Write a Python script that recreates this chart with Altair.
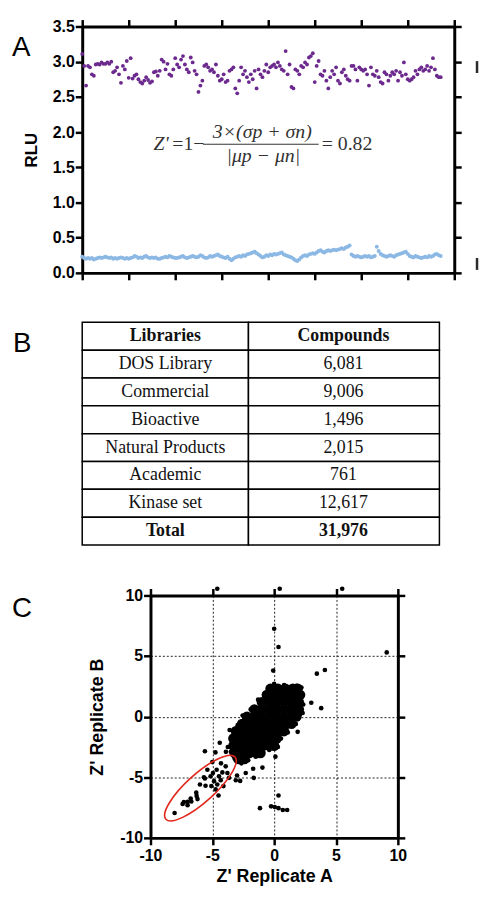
import altair as alt
import pandas as pd

# ---------------- Panel A data (RLU per well) ----------------
pos_ctrl = [3.11, 2.94, 2.66, 2.94, 2.92, 2.82, 2.80, 2.96, 2.97, 2.96,
            2.99, 2.97, 2.97, 2.99, 2.97, 3.00, 2.85, 2.87, 2.92, 2.82,
            2.70, 2.94, 2.89, 3.01, 2.77, 3.05, 2.76, 2.80, 2.82, 2.75,
            2.71, 2.69, 2.73, 2.78, 2.74, 2.70, 2.72, 2.85, 2.86, 2.80,
            2.87, 3.03, 3.00, 2.89, 2.97, 2.82, 2.80, 2.89, 3.05, 2.96,
            2.92, 3.03, 3.08, 2.96, 2.89, 2.85, 3.06, 2.99, 2.87, 2.82,
            2.57, 2.66, 2.73, 2.94, 2.96, 2.92, 2.87, 2.89, 2.85, 2.96,
            2.80, 2.73, 2.75, 2.82, 2.71, 2.73, 2.87, 2.89, 2.92, 2.62,
            2.55, 2.73, 2.92, 2.82, 2.87, 2.78, 2.71, 2.82, 2.75, 2.87,
            2.62, 2.89, 2.82, 2.78, 2.87, 2.96, 2.85, 2.92, 2.94, 2.96,
            2.92, 2.99, 2.94, 2.89, 2.87, 3.15, 2.82, 2.96, 2.64, 2.62,
            2.89, 2.87, 2.82, 2.94, 2.92, 2.99, 2.96, 3.06, 3.08, 3.12,
            2.71, 2.94, 3.01, 2.82, 2.80, 2.87, 2.73, 2.62, 2.78, 2.87,
            2.82, 2.92, 2.73, 2.69, 2.85, 2.89, 2.80, 2.75, 2.73, 2.94,
            2.94, 2.89, 2.73, 2.92, 2.89, 2.87, 2.89, 2.82, 2.66, 2.92,
            2.82, 2.80, 2.87, 2.78, 2.71, 2.69, 2.85, 2.82, 2.73, 2.80,
            2.85, 2.82, 2.87, 2.73, 2.85, 2.80, 2.99, 2.82, 2.75, 2.73,
            2.75, 2.78, 2.87, 2.82, 2.89, 2.92, 2.87, 2.89, 2.94, 2.87,
            2.92, 3.05, 2.89, 2.80, 2.78, 2.78]

neg_ctrl = [0.23, 0.21, 0.20, 0.21, 0.20, 0.21, 0.19, 0.20, 0.21, 0.22,
            0.21, 0.22, 0.23, 0.22, 0.21, 0.22, 0.20, 0.21, 0.20, 0.21,
            0.22, 0.21, 0.20, 0.21, 0.20, 0.21, 0.22, 0.24, 0.23, 0.21,
            0.22, 0.21, 0.23, 0.24, 0.22, 0.21, 0.22, 0.21, 0.22, 0.20,
            0.20, 0.21, 0.22, 0.23, 0.22, 0.24, 0.23, 0.22, 0.21, 0.21,
            0.22, 0.23, 0.24, 0.22, 0.21, 0.22, 0.23, 0.24, 0.23, 0.22,
            0.23, 0.25, 0.24, 0.22, 0.21, 0.22, 0.24, 0.23, 0.24, 0.25,
            0.26, 0.24, 0.23, 0.22, 0.21, 0.23, 0.20, 0.18, 0.20, 0.22,
            0.23, 0.24, 0.23, 0.25, 0.24, 0.26, 0.27, 0.28, 0.29, 0.30,
            0.28, 0.26, 0.24, 0.22, 0.23, 0.25, 0.24, 0.26, 0.25, 0.27,
            0.26, 0.27, 0.28, 0.29, 0.26, 0.25, 0.24, 0.23, 0.22, 0.20,
            0.18, 0.17, 0.19, 0.22, 0.24, 0.25, 0.24, 0.26, 0.27, 0.28,
            0.27, 0.29, 0.31, 0.32, 0.30, 0.29, 0.31, 0.32, 0.31, 0.32,
            0.33, 0.32, 0.33, 0.34, 0.35, 0.34, 0.36, 0.37, 0.39, 0.26,
            0.24, 0.23, 0.24, 0.23, 0.22, 0.23, 0.24, 0.23, 0.24, 0.22,
            0.23, 0.24, 0.37, 0.31, 0.27, 0.25, 0.24, 0.23, 0.24, 0.25,
            0.24, 0.23, 0.25, 0.26, 0.27, 0.28, 0.29, 0.30, 0.27, 0.24,
            0.23, 0.22, 0.24, 0.23, 0.22, 0.21, 0.22, 0.23, 0.22, 0.24,
            0.23, 0.24, 0.26, 0.27, 0.25, 0.24]

a_xticks = [0, 24, 48, 72, 96, 120, 144, 168, 192]
a_yticks = [0.0, 0.5, 1.0, 1.5, 2.0, 2.5, 3.0, 3.5]

# ---------------- Panel B data ----------------
libraries = ["Libraries", "DOS Library", "Commercial", "Bioactive",
             "Natural Products", "Academic", "Kinase set", "Total"]
compounds = ["Compounds", "6,081", "9,006", "1,496", "2,015", "761",
             "12,617", "31,976"]

# ---------------- Panel C data ----------------
# dense central cloud (overplotted region)
cloud_a = [-0.3, 0.3, 0.9, 1.5, 1.9,
           -0.6, 0.0, 0.6, 1.2, 1.8, 2.1,
           -1.0, -0.4, 0.2, 0.8, 1.4, 2.0,
           -1.6, -1.0, -0.4, 0.2, 0.8, 1.4, 2.0,
           -2.2, -1.6, -1.0, -0.4, 0.2, 0.8, 1.4, 1.8,
           -2.6, -2.0, -1.4, -0.8, -0.2, 0.4, 1.0, 1.4,
           -3.1, -2.5, -1.9, -1.3, -0.7, -0.1, 0.5, 0.8,
           -3.3, -2.7, -2.1, -1.5, -0.9, -0.3, 0.2,
           -3.3, -2.7, -2.1, -1.5, -0.9, -0.4, 0.0,
           -3.2, -2.6, -2.0, -1.4, -1.1,
           -2.9, -2.4]
cloud_b = [2.3, 2.3, 2.3, 2.3, 2.3,
           1.8, 1.8, 1.8, 1.8, 1.8, 1.8,
           1.2, 1.2, 1.2, 1.2, 1.2, 1.2,
           0.6, 0.6, 0.6, 0.6, 0.6, 0.6, 0.6,
           0.0, 0.0, 0.0, 0.0, 0.0, 0.0, 0.0, 0.0,
           -0.6, -0.6, -0.6, -0.6, -0.6, -0.6, -0.6, -0.6,
           -1.2, -1.2, -1.2, -1.2, -1.2, -1.2, -1.2, -1.2,
           -1.8, -1.8, -1.8, -1.8, -1.8, -1.8, -1.8,
           -2.4, -2.4, -2.4, -2.4, -2.4, -2.4, -2.4,
           -3.0, -3.0, -3.0, -3.0, -3.0,
           -3.5, -3.5]

# individual compounds
rep_a = [0.0, 0.35, -0.08, 9.1, 3.45, 4.1, 3.0, 3.8, 1.9, 0.1, 0.35,
         -0.25, 0.05, 0.35, 0.7, 1.05, -1.15, -4.6, 0.45, 5.5,
         -5.6, -4.75, -4.4, -3.9,
         -1.7, -0.95, -2.3, -3.0, -3.1, -2.75, -1.65, -4.5,
         -8.05, -7.4, -7.3, -7.0, -7.0, -6.75, -6.7, -6.3, -6.27, -6.2,
         -6.0, -5.6, -5.55, -5.68, -5.14, -5.08, -4.86, -4.73, -4.6,
         -4.46, -4.32, -4.19, -4.1, -3.92, -3.78, -3.65, -4.95, -4.65,
         -5.4, -4.3, -5.0,
         2.35, 2.3, 0.0, 0.8, 1.8, 2.2, -0.4, -1.3, -1.9, -2.55, -2.95,
         -3.6, -3.75, -3.5, -3.2, -2.65, -2.1, -1.5, -1.05, -0.4, 0.3,
         0.55, 1.1, 1.75, 2.1]
rep_b = [7.25, 5.75, 3.8, 5.3, 3.55, 3.85, 1.15, 0.7, -1.25, -3.3, -6.5,
         -7.4, -7.45, -7.55, -7.7, -7.7, -7.55, 10.55, 10.55, 10.55,
         -2.85, -2.95, -2.15, -2.9,
         -4.3, -4.2, -4.65, -4.85, -5.25, -5.3, -5.05, -6.5,
         -7.95, -7.2, -7.05, -7.3, -7.03, -6.75, -7.0, -6.27, -6.54, -6.8,
         -5.6, -5.1, -5.7, -5.0, -4.92, -5.73, -5.32, -6.0, -5.6,
         -4.92, -5.24, -4.6, -5.73, -4.1, -4.65, -5.05, -4.65, -4.38,
         -4.38, -3.85, -3.75,
         1.0, 0.3, 2.7, 2.6, 2.55, 2.4, 2.45, 1.4, 0.6, 0.1, -0.7,
         -1.1, -2.5, -2.9, -3.45, -3.85, -3.6, -3.3, -3.0, -2.75, -2.5,
         -1.8, -1.3, -0.6, 0.2]

c_ticks = [-10, -5, 0, 5, 10]

# ---------------- styling ----------------
SANS = "Liberation Sans"
SERIF = "Liberation Serif"
PURPLE = "#6c2a8e"
BLUE = "#8cb8e4"
RED = "#e1261c"
ONE = pd.DataFrame({"k": [0]})

frame = dict(domainColor="black", domainWidth=3, tickColor="black",
             tickWidth=2.5, tickSize=7, grid=False, labelFlush=False,
             labelOverlap=False, labelBound=False)


def note(text, x, y, size, font=SANS, style="normal", weight="normal",
         color="black", align="left"):
    return alt.Chart(ONE).mark_text(
        text=text, font=font, fontSize=size, fontStyle=style,
        fontWeight=weight, color=color, fill=color, align=align,
        baseline="middle"
    ).encode(x=alt.value(x), y=alt.value(y))


def bar(x, y1, y2):
    return alt.Chart(ONE).mark_rule(color="#2a2a2a", strokeWidth=2.5).encode(
        x=alt.value(x), y=alt.value(y1), y2=alt.value(y2))


# ---------------- Panel A ----------------
dfp = pd.DataFrame({"well": list(range(len(pos_ctrl))), "rlu": pos_ctrl})
dfn = pd.DataFrame({"well": list(range(len(neg_ctrl))), "rlu": neg_ctrl})
xA = alt.Scale(domain=[0, 192], nice=False, zero=False)
yA = alt.Scale(domain=[0, 3.5], nice=False)

ptsP = alt.Chart(dfp).mark_circle(size=15, color=PURPLE, opacity=1).encode(
    x=alt.X("well:Q", scale=xA, axis=alt.Axis(
        orient="bottom", values=a_xticks, labels=False, title=None, **frame)),
    y=alt.Y("rlu:Q", scale=yA, axis=alt.Axis(
        orient="left", values=a_yticks, format=".1f", labelFont=SANS,
        labelFontSize=16, labelFontWeight="bold", labelColor="black",
        labelPadding=1, title="RLU", titleFont=SANS, titleFontSize=17,
        titleFontWeight="bold", titleColor="black", titlePadding=12, **frame)),
)
ptsN = alt.Chart(dfn).mark_circle(size=16, color=BLUE, opacity=1).encode(
    x=alt.X("well:Q", scale=xA, axis=alt.Axis(
        orient="top", values=a_xticks, labels=False, title=None, **frame)),
    y=alt.Y("rlu:Q", scale=yA, axis=alt.Axis(
        orient="right", values=a_yticks, labels=False, title=None, **frame)),
)

EQ = "#333333"
fracline = alt.Chart(ONE).mark_rule(color=EQ, strokeWidth=1).encode(
    x=alt.value(122), x2=alt.value(239), y=alt.value(119))

panelA = alt.layer(
    ptsP, ptsN,
    note("Z'", 72, 119, 20, font=SERIF, style="italic", color=EQ),
    note("=1−", 91, 119, 20, font=SERIF, color=EQ),
    note("3×(σp + σn)", 182, 107, 20, font=SERIF, style="italic",
         color=EQ, align="center"),
    fracline,
    note("|μp − μn|", 183, 131, 20, font=SERIF, style="italic",
         color=EQ, align="center"),
    note("= 0.82", 242, 119, 20, font=SERIF, color=EQ),
    note("A", -71, 22, 28),
    bar(399, 35, 47),
    bar(399, 234, 246),
).resolve_axis(x="independent", y="independent").properties(
    width=376, height=249)

# ---------------- Panel B (table) ----------------
dfT = pd.DataFrame({"row": list(range(len(libraries))),
                    "lib": libraries, "cmp": compounds})
yT = alt.Y("row:O", axis=None,
           scale=alt.Scale(paddingInner=0, paddingOuter=0))
BOLD_ROWS = "datum.row == 0 || datum.row == 7"
cell1 = alt.Chart(dfT).mark_rect(fill="white", stroke="black",
                                 strokeWidth=1.5).encode(
    y=yT, x=alt.value(0), x2=alt.value(168))
cell2 = alt.Chart(dfT).mark_rect(fill="white", stroke="black",
                                 strokeWidth=1.5).encode(
    y=yT, x=alt.value(168), x2=alt.value(361))


def table_text(field, xpos, bold):
    flt = BOLD_ROWS if bold else "!(" + BOLD_ROWS + ")"
    return alt.Chart(dfT).transform_filter(flt).mark_text(
        font=SERIF, fontSize=18, color="#111111",
        fontWeight="bold" if bold else "normal").encode(
        y=yT, x=alt.value(xpos), text=field + ":N")


panelB = alt.layer(cell1, cell2,
                   table_text("lib", 84, False), table_text("lib", 84, True),
                   table_text("cmp", 264, False), table_text("cmp", 264, True),
                   note("B", -70, 22, 28)).properties(width=361, height=225)

# ---------------- Panel C ----------------
dfc = pd.DataFrame({"a": cloud_a, "b": cloud_b})
dfr = pd.DataFrame({"a": rep_a, "b": rep_b})
xC = alt.Scale(domain=[-10, 10], nice=False)
yC = alt.Scale(domain=[-10, 10], nice=False)
gridopts = dict(grid=True, gridColor="#222222", gridDash=[2, 2],
                gridWidth=1, gridOpacity=1)
frameC = {k: v for k, v in frame.items() if k != "grid"}
labC = dict(labelExpr="'' + datum.value", labelFont=SANS, labelFontSize=16,
            labelFontWeight="bold", labelColor="black",
            titleFont=SANS, titleFontSize=18, titleFontWeight="bold",
            titleColor="black")

cloud = alt.Chart(dfc).mark_circle(size=110, color="black", opacity=1).encode(
    x=alt.X("a:Q", scale=xC, axis=alt.Axis(
        orient="bottom", values=c_ticks, title="Z' Replicate A",
        labelPadding=3, titlePadding=4, **labC, **gridopts, **frameC)),
    y=alt.Y("b:Q", scale=yC, axis=alt.Axis(
        orient="left", values=c_ticks, title="Z' Replicate B",
        labelPadding=1, titlePadding=13, **labC, **gridopts, **frameC)),
)
dots = alt.Chart(dfr).mark_circle(size=22, color="black", opacity=1).encode(
    x=alt.X("a:Q", scale=xC, axis=alt.Axis(
        orient="top", values=c_ticks, labels=False, title=None, **frame)),
    y=alt.Y("b:Q", scale=yC, axis=alt.Axis(
        orient="right", values=c_ticks, labels=False, title=None, **frame)),
)
ELLIPSE = "M -1 0 A 1 0.3 0 1 1 1 0 A 1 0.3 0 1 1 -1 0 Z"
ring = alt.Chart(pd.DataFrame({"a": [-5.96], "b": [-5.89]})).mark_point(
    shape=ELLIPSE, size=8836, angle=318, filled=False, color=RED,
    strokeWidth=1.6, opacity=1).encode(
    x=alt.X("a:Q", scale=xC, axis=None), y=alt.Y("b:Q", scale=yC, axis=None))

panelC = alt.layer(cloud, dots, ring).resolve_axis(
    x="independent", y="independent").properties(width=250, height=245)

spacerC = note("C", -71, 14, 28).properties(width=1, height=245)
rowC = alt.hconcat(spacerC, panelC, spacing=5)

chart = alt.vconcat(panelA, panelB, rowC, spacing=40).properties(
    padding={"left": 4, "top": 5, "right": 0, "bottom": 0}
).configure(font=SANS).configure_view(stroke=None)

chart.save("out.html", embed_options={"renderer": "svg", "actions": False})
